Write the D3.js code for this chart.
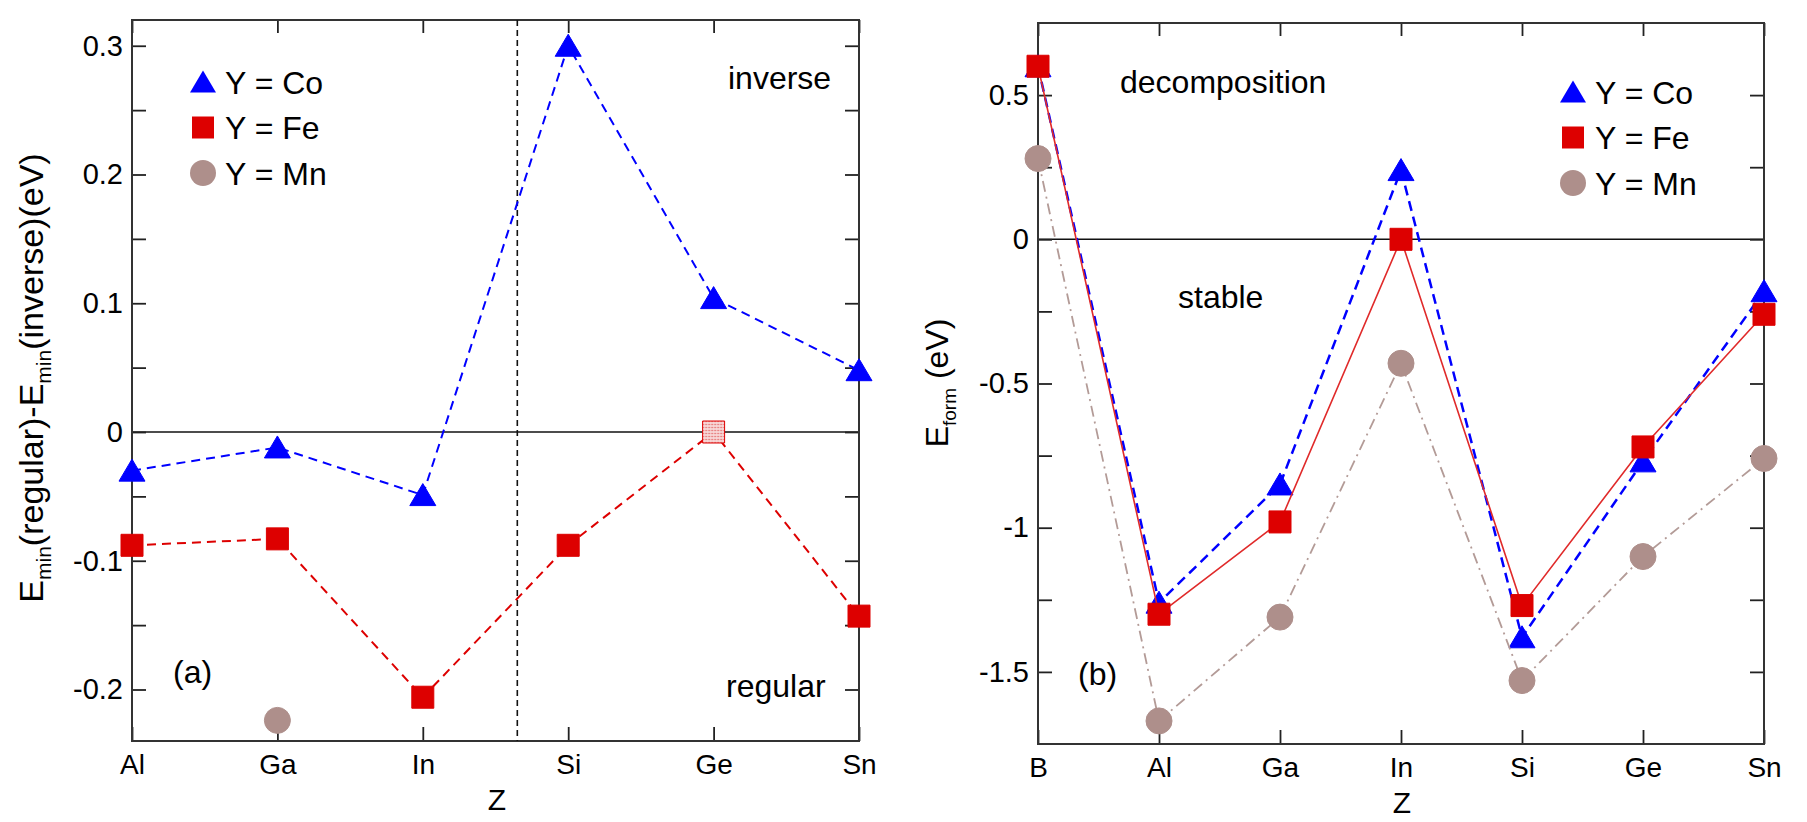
<!DOCTYPE html>
<html>
<head>
<meta charset="UTF-8">
<script src="https://cdn.jsdelivr.net/npm/d3@7"></script>
<style>
body {margin: 0; background: #fff;}
text {font-family: "Liberation Sans", Arial, Helvetica, sans-serif; fill: #000;}
.ylab text {font-size: 29px;}
.xlab text {font-size: 28px;}
.tick line {stroke: #222; stroke-width: 1.8px;}
</style>
<title>Emin and Eform</title>
</head>
<body>
<svg id="chart" width="1807" height="822"></svg>
<script>
// panel (a): E_min(regular) - E_min(inverse)
var zA = ["Al", "Ga", "In", "Si", "Ge", "Sn"];
var coA = [-0.030, -0.012, -0.049, 0.300, 0.104, 0.048];
var feA = [-0.088, -0.083, -0.206, -0.088, 0.000, -0.143];
var mnA = [null, -0.224, null, null, null, null];
var yTicksA = [0.3, 0.2, 0.1, 0, -0.1, -0.2];
var yLabelsA = ["0.3", "0.2", "0.1", "0", "-0.1", "-0.2"];
var yMinorA = [0.25, 0.15, 0.05, -0.05, -0.15];
var dividerA = 2.65;      // regular | inverse split, between In and Si
var dottedFeA = ["Ge"];   // Fe point drawn with the dotted fill

// panel (b): formation energy
var zB = ["B", "Al", "Ga", "In", "Si", "Ge", "Sn"];
var coB = [0.60, -1.26, -0.85, 0.24, -1.38, -0.77, -0.18];
var feB = [0.60, -1.30, -0.98, 0.00, -1.27, -0.72, -0.26];
var mnB = [0.28, -1.67, -1.31, -0.43, -1.53, -1.10, -0.76];
var yTicksB = [0.5, 0, -0.5, -1, -1.5];
var yLabelsB = ["0.5", "0", "-0.5", "-1", "-1.5"];
var yMinorB = [0.25, -0.25, -0.75, -1.25];

var legendNames = ["Y = Co", "Y = Fe", "Y = Mn"];

var colCo = "#0000ff", colFe = "#dd0000", colMn = "#ae8f8b";

var svg = d3.select("#chart");

var defs = svg.append("defs");
var pat = defs.append("pattern").attr("id", "dots")
    .attr("width", 3).attr("height", 3).attr("patternUnits", "userSpaceOnUse");
pat.append("rect").attr("width", 3).attr("height", 3).attr("fill", "#f7d6d6");
pat.append("circle").attr("cx", 1.5).attr("cy", 1.5).attr("r", 0.8).attr("fill", "#e06060");

function markerPath(kind) {
    if (kind == "tri") return "M0,-11.5L13,10.5L-13,10.5Z";
    if (kind == "sq") return "M-11,-11H11V11H-11Z";
    return d3.symbol(d3.symbolCircle, Math.PI * 13 * 13)();
}

function makePanel(o) {
    var x = d3.scaleLinear().domain([0, o.cats.length - 1]).range([o.left, o.right]);
    var y = d3.scaleLinear().domain(o.yDomain).range([o.bottom, o.top]);
    var g = svg.append("g");
    var idx = d3.range(o.cats.length);

    // zero line
    g.append("line")
        .attr("x1", o.left).attr("x2", o.right)
        .attr("y1", y(0)).attr("y2", y(0))
        .attr("stroke", "#111").attr("stroke-width", 1.6);

    g.append("g").attr("class", "xlab")
        .attr("transform", "translate(0," + o.bottom + ")")
        .call(d3.axisBottom(x).tickValues(idx).tickFormat(function(i) { return o.cats[i]; })
            .tickSizeInner(-14).tickSizeOuter(0).tickPadding(13));
    g.append("g")
        .attr("transform", "translate(0," + o.top + ")")
        .call(d3.axisTop(x).tickValues(idx).tickFormat("").tickSizeInner(-13).tickSizeOuter(0));
    g.append("g").attr("class", "ylab")
        .attr("transform", "translate(" + o.left + ",0)")
        .call(d3.axisLeft(y).tickValues(o.yTicks).tickFormat(function(d, i) { return o.yLabels[i]; })
            .tickSizeInner(-14).tickSizeOuter(0).tickPadding(9));
    g.append("g")
        .attr("transform", "translate(" + o.left + ",0)")
        .call(d3.axisLeft(y).tickValues(o.yMinor).tickFormat("").tickSizeInner(-14).tickSizeOuter(0));
    g.append("g")
        .attr("transform", "translate(" + o.right + ",0)")
        .call(d3.axisRight(y).tickValues(o.yTicks.concat(o.yMinor)).tickFormat("").tickSizeInner(-14).tickSizeOuter(0));
    g.selectAll(".domain").remove();

    g.append("rect")
        .attr("x", o.left).attr("y", o.top)
        .attr("width", o.right - o.left).attr("height", o.bottom - o.top)
        .attr("fill", "none").attr("stroke", "#333").attr("stroke-width", 2);

    return {g: g, x: x, y: y};
}

function drawSeries(p, vals, kind, color, line, fillFn) {
    var pts = vals.map(function(v, i) { return {i: i, v: v}; });
    var gen = d3.line()
        .defined(function(d) { return d.v != null; })
        .x(function(d) { return p.x(d.i); })
        .y(function(d) { return p.y(d.v); });
    p.g.append("path").datum(pts)
        .attr("d", gen)
        .attr("fill", "none")
        .attr("stroke", line.color)
        .attr("stroke-width", line.width)
        .attr("stroke-dasharray", line.dash);
    p.g.selectAll(null)
        .data(pts.filter(function(d) { return d.v != null; }))
        .enter().append("path")
        .attr("d", markerPath(kind))
        .attr("transform", function(d) { return "translate(" + p.x(d.i) + "," + p.y(d.v) + ")"; })
        .attr("fill", function(d) { return fillFn ? fillFn(d) : color; })
        .attr("stroke", color).attr("stroke-width", 1);
}

function legend(x0, y0, step) {
    var kinds = ["tri", "sq", "circ"], cols = [colCo, colFe, colMn];
    legendNames.forEach(function(name, i) {
        var cy = y0 + i * step;
        svg.append("path").attr("d", markerPath(kinds[i]))
            .attr("transform", "translate(" + x0 + "," + cy + ")")
            .attr("fill", cols[i]);
        svg.append("text").attr("x", x0 + 22).attr("y", cy + 11.5)
            .attr("font-size", 32).text(name);
    });
}

function note(x, y, s) {
    svg.append("text").attr("x", x).attr("y", y).attr("font-size", 32).text(s);
}

// ---- panel (a)
var pA = makePanel({cats: zA, left: 132, right: 859, top: 20, bottom: 741,
    yDomain: [-0.24, 0.32], yTicks: yTicksA, yLabels: yLabelsA, yMinor: yMinorA});

pA.g.append("line")
    .attr("x1", pA.x(dividerA)).attr("x2", pA.x(dividerA))
    .attr("y1", 20).attr("y2", 741)
    .attr("stroke", "#111").attr("stroke-width", 1.6).attr("stroke-dasharray", "6,4");

drawSeries(pA, coA, "tri", colCo, {color: colCo, width: 2, dash: "9,6"});
drawSeries(pA, feA, "sq", colFe, {color: colFe, width: 2, dash: "9,6"}, function(d) {
    return dottedFeA.indexOf(zA[d.i]) >= 0 ? "url(#dots)" : colFe;
});
drawSeries(pA, mnA, "circ", colMn, {color: colMn, width: 1.5, dash: null});

legend(203, 82, 45.5);
note(728, 89, "inverse");
note(726, 697, "regular");
note(173, 683, "(a)");

var labA = svg.append("text")
    .attr("transform", "translate(43,378) rotate(-90)")
    .attr("text-anchor", "middle").attr("font-size", 34);
labA.append("tspan").text("E");
labA.append("tspan").attr("font-size", 21).attr("dy", 8).text("min");
labA.append("tspan").attr("dy", -8).text("(regular)-E");
labA.append("tspan").attr("font-size", 21).attr("dy", 8).text("min");
labA.append("tspan").attr("dy", -8).text("(inverse)(eV)");

svg.append("text").attr("x", 497).attr("y", 810).attr("text-anchor", "middle")
    .attr("font-size", 30).text("Z");

// ---- panel (b)
var pB = makePanel({cats: zB, left: 1038, right: 1764, top: 23, bottom: 744,
    yDomain: [-1.75, 0.75], yTicks: yTicksB, yLabels: yLabelsB, yMinor: yMinorB});

drawSeries(pB, coB, "tri", colCo, {color: colCo, width: 2.5, dash: "10,6"});
drawSeries(pB, feB, "sq", colFe, {color: "#e02a2a", width: 1.6, dash: null});
drawSeries(pB, mnB, "circ", colMn, {color: "#b39b97", width: 1.8, dash: "11,5,2,5"});

legend(1573, 92, 45.5);
note(1120, 93, "decomposition");
note(1178, 308, "stable");
note(1078, 685, "(b)");

var labB = svg.append("text")
    .attr("transform", "translate(948,383) rotate(-90)")
    .attr("text-anchor", "middle").attr("font-size", 32);
labB.append("tspan").text("E");
labB.append("tspan").attr("font-size", 19).attr("dy", 8).text("form");
labB.append("tspan").attr("dy", -8).text(" (eV)");

svg.append("text").attr("x", 1402).attr("y", 813).attr("text-anchor", "middle")
    .attr("font-size", 30).text("Z");
</script>
</body>
</html>
